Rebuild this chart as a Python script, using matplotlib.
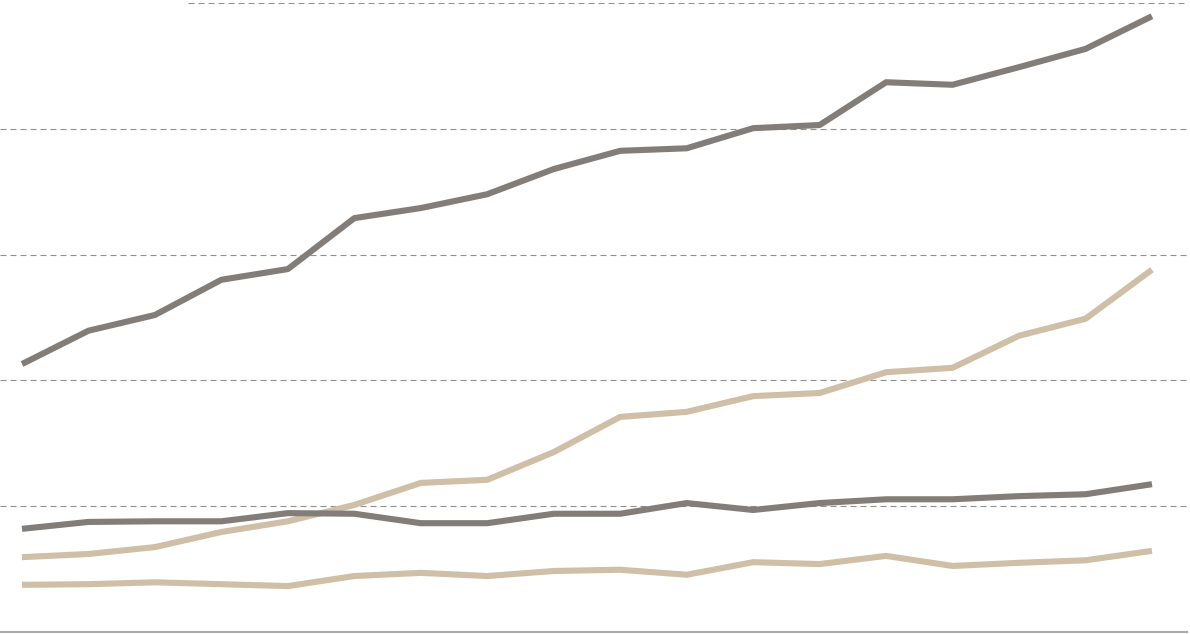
import matplotlib
matplotlib.use("Agg")
import matplotlib.pyplot as plt

periods = list(range(18))
series_top = [42.6, 47.9, 50.4, 56.0, 57.7, 65.8, 67.4, 69.6, 73.6, 76.5, 76.9, 80.1, 80.6, 87.4, 87.0, 89.8, 92.7, 97.9]
series_rise = [11.9, 12.4, 13.5, 15.9, 17.6, 20.2, 23.7, 24.2, 28.6, 34.2, 35.0, 37.5, 38.0, 41.3, 42.0, 47.1, 49.8, 57.6]
series_mid = [16.4, 17.5, 17.6, 17.6, 18.9, 18.8, 17.3, 17.3, 18.8, 18.8, 20.5, 19.4, 20.5, 21.1, 21.1, 21.6, 21.9, 23.5]
series_low = [7.5, 7.6, 7.9, 7.6, 7.3, 8.9, 9.4, 8.9, 9.7, 9.9, 9.1, 11.1, 10.8, 12.1, 10.5, 11.0, 11.4, 12.9]
grid_values = [20, 40, 60, 80, 100]

gray = "#827d78"
tan = "#cfbfa6"

W, H = 1190, 634
fig = plt.figure(figsize=(W / 100, H / 100), dpi=100)
ax = fig.add_axes([0, 2 / H, 1187 / W, (632 - 3) / H])
ax.set_xlim(-0.331, 17.527)
ax.set_ylim(0, 100)

for v in grid_values:
    xmin = 188 / 1187 if v == 100 else 0
    ax.axhline(v, xmin=xmin, xmax=1, color="#909090", lw=0.8, ls=(0, (5.4, 3.6)), zorder=1)

lw = 4.4
ax.plot(periods, series_low, color=tan, lw=lw, solid_capstyle="butt", zorder=3)
ax.plot(periods, series_rise, color=tan, lw=lw, solid_capstyle="butt", zorder=3)
ax.plot(periods, series_mid, color=gray, lw=lw, solid_capstyle="butt", zorder=4)
ax.plot(periods, series_top, color=gray, lw=lw, solid_capstyle="butt", zorder=4)

for s in ["top", "right", "left"]:
    ax.spines[s].set_visible(False)
ax.spines["bottom"].set_color("#aaaaaa")
ax.spines["bottom"].set_linewidth(1.5)
ax.set_xticks([])
ax.set_yticks([])
ax.patch.set_alpha(0)

fig.savefig("out.png", dpi=100)
